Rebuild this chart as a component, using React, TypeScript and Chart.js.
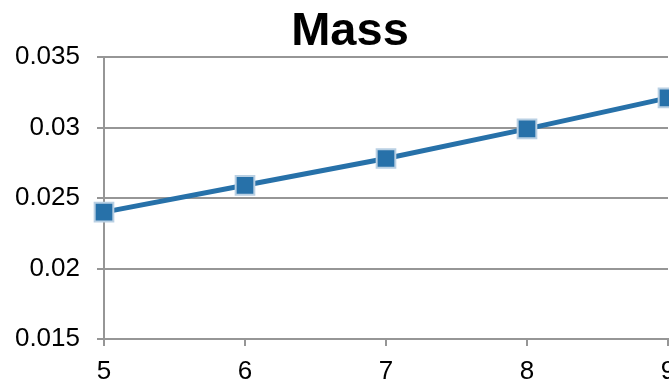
import React, { useEffect, useRef } from "react";
import { Chart, registerables } from "chart.js";

Chart.register(...registerables);

// Mass against step number
const CHART_TITLE = "Mass";
const X_VALUES = [5, 6, 7, 8, 9];
const MASS_VALUES = [0.024, 0.0259, 0.0278, 0.0299, 0.0321];
const Y_MIN = 0.015;
const Y_MAX = 0.035;
const Y_STEP = 0.005;
const X_MIN = 5;
const X_MAX = 9;

const LINE_COLOR = "#2771a9";
const MARKER_EDGE = "#b9d0e3";
const GRID_COLOR = "#969696";
const FONT_FAMILY = "'Liberation Sans', Arial, sans-serif";

// Bold title centred across the full canvas width
const titlePlugin = {
  id: "massTitle",
  afterDraw(chart: Chart) {
    const { ctx } = chart;
    ctx.save();
    ctx.font = `bold 47px ${FONT_FAMILY}`;
    ctx.fillStyle = "#000";
    ctx.textAlign = "center";
    ctx.textBaseline = "alphabetic";
    ctx.fillText(CHART_TITLE, chart.width / 2, 45);
    ctx.restore();
  },
};

export default function App() {
  const canvasRef = useRef<HTMLCanvasElement | null>(null);

  useEffect(() => {
    const canvas = canvasRef.current;
    if (!canvas) return;
    const chart = new Chart(canvas, {
      type: "line",
      data: {
        datasets: [
          {
            label: CHART_TITLE,
            data: X_VALUES.map((x, i) => ({ x, y: MASS_VALUES[i] })),
            borderColor: LINE_COLOR,
            borderWidth: 5,
            backgroundColor: LINE_COLOR,
            pointStyle: "rect",
            pointRadius: 13.2,
            pointHoverRadius: 13.2,
            pointBorderWidth: 2,
            pointBackgroundColor: LINE_COLOR,
            pointBorderColor: MARKER_EDGE,
            tension: 0,
            clip: false,
          },
        ],
      },
      options: {
        animation: false,
        responsive: false,
        maintainAspectRatio: false,
        layout: { padding: { top: 57, left: 15, right: 32, bottom: 0 } },
        plugins: {
          legend: { display: false },
          title: { display: false },
          tooltip: { enabled: false },
        },
        scales: {
          x: {
            type: "linear",
            min: X_MIN,
            max: X_MAX,
            afterFit: (scale: any) => {
              scale.height = 43;
            },
            border: { display: true, color: GRID_COLOR, width: 2 },
            grid: {
              drawOnChartArea: false,
              drawTicks: true,
              tickLength: 7,
              color: GRID_COLOR,
              lineWidth: 2,
            },
            ticks: {
              stepSize: 1,
              padding: 10,
              color: "#000",
              font: { family: FONT_FAMILY, size: 26 },
              maxRotation: 0,
            },
          },
          y: {
            min: Y_MIN,
            max: Y_MAX,
            afterFit: (scale: any) => {
              scale.width = 89;
            },
            border: { display: true, color: GRID_COLOR, width: 2 },
            grid: {
              drawOnChartArea: true,
              drawTicks: true,
              tickLength: 7,
              color: GRID_COLOR,
              lineWidth: 2,
            },
            ticks: {
              stepSize: Y_STEP,
              padding: 17,
              color: "#000",
              font: { family: FONT_FAMILY, size: 26 },
              callback: (v: any) => String(+Number(v).toFixed(3)),
            },
          },
        },
      },
      plugins: [titlePlugin],
    });
    return () => chart.destroy();
  }, []);

  return (
    <div
      style={{
        position: "fixed",
        left: 0,
        top: 0,
        width: 669,
        height: 382,
        overflow: "hidden",
        background: "#fff",
      }}
    >
      <canvas ref={canvasRef} width={700} height={382} style={{ display: "block" }} />
    </div>
  );
}
